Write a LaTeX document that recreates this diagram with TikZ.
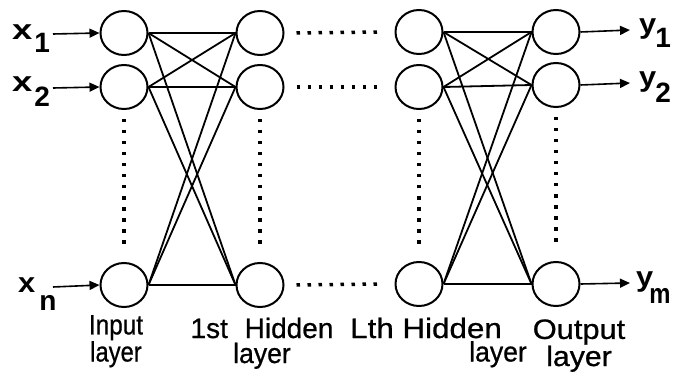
\documentclass[tikz,border=0pt]{standalone}
\usepackage{fontspec}
\setmainfont{Liberation Sans}
\newfontfamily\labfont{Liberation Sans}[FakeBold=0.7]
\usetikzlibrary{shapes.geometric,arrows.meta}
\newcommand\sublab[2]{\raisebox{-#1pt}{#2}}
\begin{document}
\begin{tikzpicture}[x=1pt,y=-1pt,
  neuron/.style={ellipse,draw,line width=2pt,minimum width=47pt,minimum height=44pt,inner sep=0pt},
  conn/.style={line width=1.8pt},
  arr/.style={line width=1.6pt,-{Triangle[length=10pt,width=9pt]}},
  dotrow/.style={line width=3.5pt,dash pattern=on 3.5pt off 7.5pt},
  inlab/.style={font=\bfseries\fontsize{28}{28}\selectfont,anchor=base west,inner sep=0pt},
  laylab/.style={font=\labfont\fontsize{28}{23.5}\selectfont,anchor=base,inner sep=0pt,align=center}]
\useasboundingbox (0,0) rectangle (674,390);
% neurons
\node[neuron] (i1) at (124,33) {};
\node[neuron] (i2) at (124,87) {};
\node[neuron] (i3) at (124,285) {};
\node[neuron] (h1) at (260,33) {};
\node[neuron] (h2) at (260,87) {};
\node[neuron] (h3) at (260,285) {};
\node[neuron] (l1) at (419,32) {};
\node[neuron] (l2) at (419,87) {};
\node[neuron] (l3) at (419,284) {};
\node[neuron] (o1) at (556,32) {};
\node[neuron] (o2) at (556,85) {};
\node[neuron] (o3) at (556,284) {};
% connections
\foreach \a in {1,2,3}{
  \foreach \b in {1,2,3}{
    \draw[conn] (i\a.east) -- (h\b.west);
    \draw[conn] (l\a.east) -- (o\b.west);
  }
}
% dotted rows
\foreach \r in {1,2,3}{
  \draw[dotrow] ([xshift=12pt]h\r.east) -- ([xshift=-12pt]l\r.west);
}
\foreach \c in {i,h,l,o}{
  \draw[dotrow] ([yshift=-9pt]\c2.south) -- ([yshift=13pt]\c3.north);
}
% input arrows
\coordinate (xa1) at (53,34);
\coordinate (xa2) at (53,88);
\coordinate (xa3) at (53,287);
\draw[arr] (xa1) -- (i1.west);
\draw[arr] (xa2) -- (i2.west);
\draw[arr] (xa3) -- (i3.west);
% output arrows
\coordinate (ya1) at (630,30);
\coordinate (ya2) at (630,83);
\coordinate (ya3) at (630,283);
\draw[arr] (o1.east) -- (ya1);
\draw[arr] (o2.east) -- (ya2);
\draw[arr] (o3.east) -- (ya3);
% input / output labels
\node[inlab] (lx1) at (12,40) {\scalebox{1.3}[1]{x}\kern2pt\sublab{13}{1}};
\node[inlab] (lx2) at (12,92) {\scalebox{1.3}[1]{x}\kern2pt\sublab{15}{2}};
\node[inlab] (lx3) at (18,292) {\scalebox{1.1}[1]{x}\kern4pt\sublab{18}{n}};
\node[inlab] (ly1) at (639,34) {\scalebox{1.1}[1]{y}\kern-1pt\sublab{14}{1}};
\node[inlab] (ly2) at (639,87) {\scalebox{1.1}[1]{y}\kern-1pt\sublab{16}{2}};
\node[inlab] (ly3) at (636,286) {\scalebox{1.1}[1]{y}\kern-4pt\sublab{17}{\scalebox{0.85}[1]{m}}};
% layer labels (base anchor = baseline of the last line)
\node[laylab] (t1) at (116,361.5) {\scalebox{0.87}[1]{Input}\\\scalebox{0.85}[1]{layer}};
\node[laylab,font=\labfont\fontsize{28}{25}\selectfont] (t2) at (262,363) {\scalebox{1}[1]{1st\hspace{0.6em}Hidden}\\\scalebox{0.95}[1]{layer}};
\node[laylab,align=left,anchor=base west] (t3) at (350,361.5) {\scalebox{1.12}[1]{Lth Hidden}\\\hspace*{119pt}\scalebox{0.95}[1]{layer}};
\node[laylab,font=\labfont\fontsize{28}{21}\selectfont] (t4) at (579,366) {\scalebox{1.1}[1]{Output}\\\scalebox{1.08}[1]{layer}};
\end{tikzpicture}
\end{document}
